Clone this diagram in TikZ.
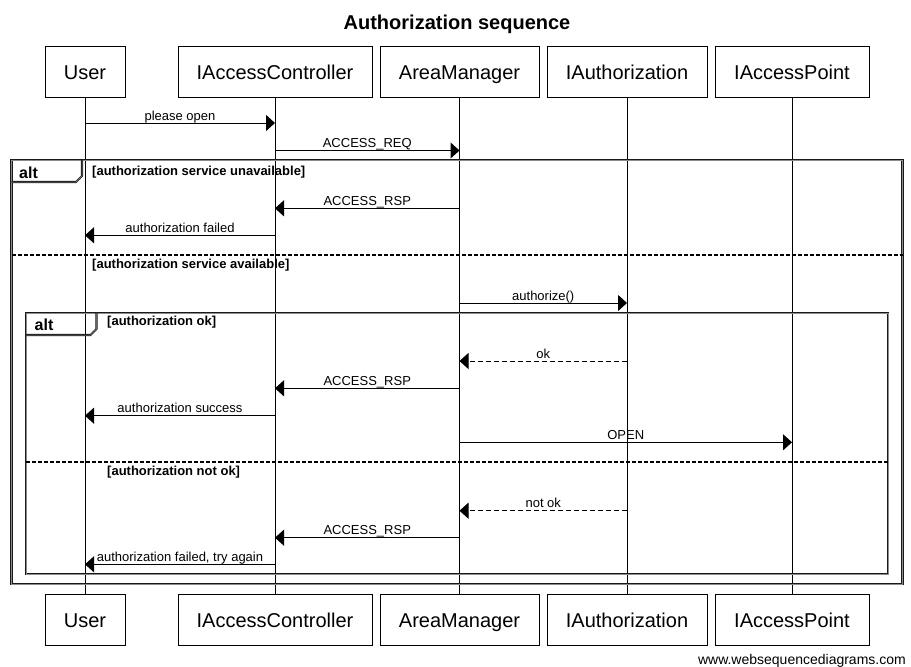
\documentclass[tikz,border=0pt]{standalone}
\usepackage{fontspec}
\setmainfont{Liberation Sans}
\usetikzlibrary{arrows.meta, positioning}
\newcommand{\fsz}[1]{\fontsize{#1}{#1}\selectfont}

\begin{document}
\begin{tikzpicture}[
    x=1pt, y=-1pt,
    actor/.style={rectangle, draw=black, line width=1pt, minimum height=51pt, inner sep=0pt, text height=15pt, text depth=0pt, font=\fsz{20}},
    lifeline/.style={line width=1pt},
    msg/.style={-{Triangle[length=9pt, width=16pt]}, line width=1pt},
    reply/.style={msg, dash pattern=on 5pt off 3pt},
    lbl/.style={font=\fsz{13}, text depth=0pt, inner sep=2.5pt, anchor=south},
    frame/.style={draw=black!90, double=black!45, double distance=0.5pt, line width=0.8pt},
    sep/.style={line width=1.4pt, dash pattern=on 4pt off 2pt},
    guard/.style={font=\bfseries\fsz{13}, anchor=base west, inner sep=0pt},
    tag/.style={font=\bfseries\fsz{16}, anchor=base west, inner sep=0pt}
]
\useasboundingbox (0,0) rectangle (911,667);
\node[font=\bfseries\fsz{20}, anchor=base] (title) at (457,29) {Authorization sequence};
% participants, top and bottom
\foreach \id/\xc/\w/\txt in {user/85/80/User, ctrl/275/194/IAccessController, area/459.5/159/AreaManager, auth/627/160/IAuthorization, point/792/154/IAccessPoint} {
    \node[actor, minimum width=\w pt] (\id) at (\xc, 71.5) {\txt};
    \node[actor, minimum width=\w pt] (b\id) at (\xc, 619.5) {\txt};
    \draw[lifeline] (\id) -- (b\id);
}
% outer alt
\draw[frame] (11.5,160) rectangle (902.5,584);
\draw[frame] (11.5,182) -- (76,182) -- (82,176) -- (82,160);
\node[tag] (alt1) at (19,178) {alt};
\node[guard] (g1) at (92,175) {[authorization service unavailable]};
\draw[sep] (11.5,255) -- (902.5,255);
\node[guard] (g2) at (92,268.5) {[authorization service available]};
% inner alt
\draw[frame] (26,313) rectangle (888,574);
\draw[frame] (26,335) -- (90.5,335) -- (96.5,329) -- (96.5,313);
\node[tag] (alt2) at (34.5,330) {alt};
\node[guard] (g3) at (107,325) {[authorization ok]};
\draw[sep] (26,462) -- (888,462);
\node[guard] (g4) at (107,475) {[authorization not ok]};
% messages
\foreach \src/\dst/\yy/\txt in {user/ctrl/123/please open, ctrl/area/150.5/ACCESS\_REQ, area/ctrl/208.3/ACCESS\_RSP, ctrl/user/235.3/authorization failed, area/auth/303/authorize(), area/ctrl/388.3/ACCESS\_RSP, ctrl/user/415.7/authorization success, area/point/442.3/OPEN, area/ctrl/537.7/ACCESS\_RSP, ctrl/user/564.3/{authorization failed, try again}} {
    \draw[msg] (\src.south |- 0,\yy) -- node[lbl] {\txt} (\dst.south |- 0,\yy);
}
\draw[reply] (auth.south |- 0,361) -- node[lbl] {ok} (area.south |- 0,361);
\draw[reply] (auth.south |- 0,510.7) -- node[lbl] {not ok} (area.south |- 0,510.7);
\node[font=\fsz{14}, anchor=base east, inner sep=0pt] (credit) at (906,664) {www.websequencediagrams.com};
\end{tikzpicture}
\end{document}
